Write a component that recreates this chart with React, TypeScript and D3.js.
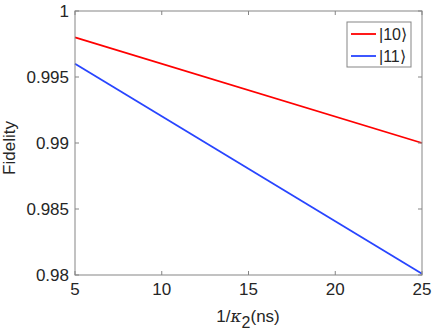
import React from 'react';
import * as d3 from 'd3';

// data
const kappaInv = [5, 25];
const fid10 = [0.998, 0.99];
const fid11 = [0.996, 0.9801];
const xTicks = [5, 10, 15, 20, 25];
const yTicks = [0.98, 0.985, 0.99, 0.995, 1];
const yTickLabels = ['0.98', '0.985', '0.99', '0.995', '1'];
const seriesNames = ['|10⟩', '|11⟩'];
const seriesColors = ['#ff0000', '#2845ff'];

const W = 437;
const H = 336;
const margin = { top: 11, right: 15, bottom: 61, left: 75 };
const FONT = '"Liberation Sans", Arial, sans-serif';

export default function App() {
  const x = d3.scaleLinear().domain([5, 25]).range([margin.left, W - margin.right]);
  const y = d3.scaleLinear().domain([0.98, 1]).range([H - margin.bottom, margin.top]);
  const line = d3.line<number>().x((_, i) => x(kappaInv[i])).y(d => y(d));
  const series = [fid10, fid11];

  const x0 = x.range()[0], x1 = x.range()[1];
  const y0 = y.range()[0], y1 = y.range()[1];
  const axisCol = '#858585';
  const textCol = '#262626';
  const tk = 4;

  // legend box
  const lg = { x: 347, y: 22, w: 64, h: 45 };

  return (
    <svg width={W} height={H} style={{ position: 'absolute', left: 0, top: 0, background: '#fff' }}>
      <rect x={0} y={0} width={W} height={H} fill="#fff" />
      {series.map((s, i) => (
        <path key={i} d={line(s) || ''} fill="none" stroke={seriesColors[i]} strokeWidth={1.8} />
      ))}
      {/* box */}
      <rect x={x0} y={y1} width={x1 - x0} height={y0 - y1} fill="none" stroke={axisCol} strokeWidth={1} />
      {xTicks.map(t => (
        <g key={t}>
          <line x1={x(t)} x2={x(t)} y1={y0} y2={y0 - tk} stroke={axisCol} />
          <line x1={x(t)} x2={x(t)} y1={y1} y2={y1 + tk} stroke={axisCol} />
          <text x={x(t)} y={y0 + 20} textAnchor="middle" fontFamily={FONT} fontSize={17} fill={textCol}>{t}</text>
        </g>
      ))}
      {yTicks.map((t, i) => (
        <g key={t}>
          <line x1={x0} x2={x0 + tk} y1={y(t)} y2={y(t)} stroke={axisCol} />
          <line x1={x1} x2={x1 - tk} y1={y(t)} y2={y(t)} stroke={axisCol} />
          <text x={x0 - 6} y={y(t) + 6} textAnchor="end" fontFamily={FONT} fontSize={17} fill={textCol}>{yTickLabels[i]}</text>
        </g>
      ))}
      <text x={248} y={322} textAnchor="middle" fontFamily={FONT} fontSize={17} fill={textCol}>
        1/<tspan fontStyle="italic" fontFamily="'DejaVu Serif', serif">κ</tspan>
        <tspan dy={6} fontSize={16}>2</tspan>
        <tspan dy={-6}>(ns)</tspan>
      </text>
      <text transform={`translate(15,148) rotate(-90)`} textAnchor="middle" fontFamily={FONT} fontSize={17} fill={textCol}>Fidelity</text>
      {/* legend */}
      <rect x={lg.x} y={lg.y} width={lg.w} height={lg.h} fill="#fff" stroke={axisCol} />
      {seriesNames.map((n, i) => (
        <g key={n}>
          <line x1={lg.x + 4} x2={lg.x + 29} y1={lg.y + 12 + i * 22} y2={lg.y + 12 + i * 22} stroke={seriesColors[i]} strokeWidth={1.8} />
          <text x={lg.x + 32} y={lg.y + 18 + i * 22} fontFamily={FONT} fontSize={16} fill={textCol}>{n}</text>
        </g>
      ))}
    </svg>
  );
}
